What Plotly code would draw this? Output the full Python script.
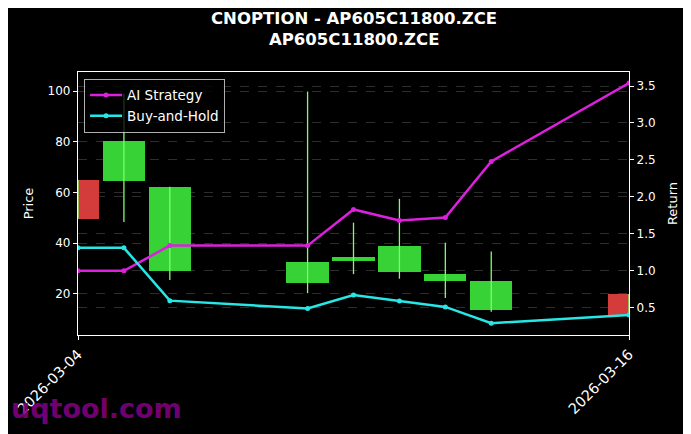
import pandas as pd
import plotly.graph_objects as go

# daily option bars (matplotlib-style candles) + two return curves on a second axis
dates = ["2026-03-04", "2026-03-05", "2026-03-06", "2026-03-09", "2026-03-10",
         "2026-03-11", "2026-03-12", "2026-03-13", "2026-03-16"]
opens = [65.0, 64.7, 29.2, 24.2, 33.0, 28.8, 24.9, 13.8, 20.0]
closes = [49.6, 80.4, 62.3, 32.7, 34.6, 38.9, 28.0, 25.2, 11.1]
highs = [65.0, 99.0, 62.3, 99.8, 48.1, 57.5, 40.2, 36.7, 20.0]
lows = [49.6, 48.4, 25.5, 20.3, 27.8, 26.0, 18.4, 13.0, 11.1]

ai_strategy = [1.00, 1.00, 1.34, 1.34, 1.83, 1.68, 1.72, 2.48, 3.54]
buy_and_hold = [1.31, 1.31, 0.595, 0.49, 0.67, 0.59, 0.51, 0.29, 0.40]

x_ticks = ["2026-03-04", "2026-03-16"]

UP = "#36d236"
DOWN = "#d43c3c"
WICK = "#7cff6c"
MAGENTA = "#dd20dd"
CYAN = "#26e6e6"

x = pd.to_datetime(dates)
up = [c >= o for o, c in zip(opens, closes)]

fig = go.Figure()

# candle bodies as floating bars
fig.add_trace(go.Bar(
    x=x,
    y=[c - o for o, c in zip(opens, closes)],
    base=opens,
    width=0.92 * 86400000,
    marker=dict(color=[UP if u else DOWN for u in up], line=dict(width=0)),
    showlegend=False,
    hoverinfo="skip",
))

# wicks
wx, wy = [], []
for d, h, l in zip(x, highs, lows):
    wx += [d, d, None]
    wy += [l, h, None]
fig.add_trace(go.Scatter(
    x=wx, y=wy, mode="lines",
    line=dict(color=WICK, width=1.3),
    showlegend=False, hoverinfo="skip",
))

fig.add_trace(go.Scatter(
    x=x, y=ai_strategy, name="AI Strategy", yaxis="y2",
    mode="lines+markers",
    line=dict(color=MAGENTA, width=2.5),
    marker=dict(color=MAGENTA, size=5),
))
fig.add_trace(go.Scatter(
    x=x, y=buy_and_hold, name="Buy-and-Hold", yaxis="y2",
    mode="lines+markers",
    line=dict(color=CYAN, width=2.5),
    marker=dict(color=CYAN, size=5),
))

grid = dict(showgrid=True, gridcolor="rgba(150,150,150,0.3)", griddash="dash", gridwidth=0.6)

# the page puts the graph 8px in from the corner, so margins are trimmed by 8
fig.update_layout(
    width=691, height=434,
    paper_bgcolor="black", plot_bgcolor="black",
    font=dict(family="DejaVu Sans", size=12, color="white"),
    margin=dict(l=70, r=70, t=64, b=107),
    bargap=0,
    showlegend=True,
    legend=dict(
        x=0.011, y=0.974, xanchor="left", yanchor="top",
        bgcolor="rgba(0,0,0,0.8)", bordercolor="rgba(220,220,220,0.8)", borderwidth=1,
        font=dict(size=13.5, color="white"),
        itemwidth=32,
    ),
    xaxis=dict(
        type="date",
        range=["2026-03-04", "2026-03-16"],
        tickvals=pd.to_datetime(x_ticks),
        ticktext=x_ticks,
        tickangle=-45,
        tickfont=dict(size=14.5),
        ticks="outside", ticklen=4, tickcolor="white",
        showline=True, linecolor="white", linewidth=1.2, mirror=True,
        showgrid=False, zeroline=False, automargin=False,
    ),
    yaxis=dict(
        title=dict(text="Price", font=dict(size=13), standoff=11),
        range=[3.8, 107.5],
        tickvals=[20, 40, 60, 80, 100],
        ticks="outside", ticklen=4, tickcolor="white",
        showline=True, linecolor="white", linewidth=1.2,
        zeroline=False, automargin=False,
        **grid,
    ),
    yaxis2=dict(
        title=dict(text="Return", font=dict(size=13), standoff=13),
        overlaying="y", side="right",
        range=[0.13, 3.69],
        tickvals=[0.5, 1.0, 1.5, 2.0, 2.5, 3.0, 3.5],
        ticktext=["0.5", "1.0", "1.5", "2.0", "2.5", "3.0", "3.5"],
        ticks="outside", ticklen=4, tickcolor="white",
        showline=True, linecolor="white", linewidth=1.2,
        zeroline=False, automargin=False,
        **grid,
    ),
)

# two-line bold title, placed line by line
for txt, yy in [("CNOPTION - AP605C11800.ZCE", 1.205), ("AP605C11800.ZCE", 1.125)]:
    fig.add_annotation(
        text=f"<b>{txt}</b>", xref="paper", yref="paper", x=0.5, y=yy,
        xanchor="center", yanchor="middle", showarrow=False,
        font=dict(size=16.5, color="white"),
    )

fig.add_annotation(
    text="<b>uqtool.com</b>",
    xref="paper", yref="paper", x=-0.125, y=-0.278,
    xanchor="left", yanchor="middle",
    showarrow=False,
    font=dict(size=27, color="rgba(128,0,128,0.9)", family="DejaVu Sans"),
)

fig.write_html("out.html")
